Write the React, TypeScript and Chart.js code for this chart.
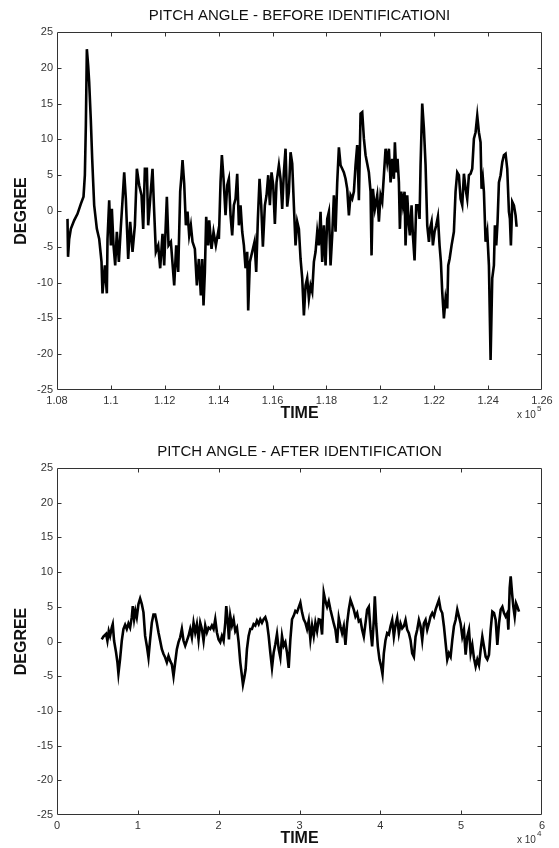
import React, { useEffect, useRef } from "react";
import { Chart, registerables } from "chart.js";

Chart.register(...registerables);

const FONT = "'Liberation Sans', Arial, Helvetica, sans-serif";

// ---------- BEFORE IDENTIFICATION (time in raw units, axis shown x 10^5) ----------
const beforeTime = [
  108390, 108410, 108452, 108514, 108638, 108761, 108885, 108984, 109034, 109071,
  109108, 109157, 109194, 109256, 109306, 109343, 109380, 109479, 109566, 109652,
  109689, 109776, 109850, 109875, 109937, 109999, 110036, 110098, 110160, 110221,
  110296, 110370, 110432, 110494, 110555, 110642, 110716, 110803, 110890, 110964,
  111050, 111137, 111199, 111261, 111335, 111384, 111459, 111545, 111607, 111669,
  111756, 111830, 111916, 111978, 112077, 112139, 112226, 112350, 112424, 112498,
  112572, 112622, 112659, 112721, 112783, 112844, 112906, 112968, 113030, 113117,
  113191, 113265, 113339, 113389, 113438, 113488, 113537, 113612, 113649, 113735,
  113810, 113896, 113983,
  114008, 114069, 114119, 114181, 114255, 114317, 114379, 114441, 114502, 114564,
  114626, 114688, 114750, 114812, 114874, 114936, 114997, 115059, 115096, 115158,
  115245, 115331, 115393, 115455, 115517, 115579, 115641, 115715, 115777, 115839,
  115901, 115962, 116024, 116086, 116148, 116235, 116297, 116358, 116420, 116482,
  116544, 116606, 116668, 116730, 116791, 116853, 116915, 116977, 117039, 117101,
  117163, 117225, 117286, 117348, 117410, 117472, 117534, 117596, 117658, 117719,
  117781, 117843, 117905, 117967, 118029, 118091, 118152, 118214, 118276, 118338,
  118400, 118462, 118524, 118586, 118647, 118709, 118771, 118833, 118895, 118957,
  119019, 119080, 119142, 119204, 119266, 119328, 119390, 119452, 119514, 119575,
  119637, 119674, 119724, 119798, 119885, 119947,
  120008, 120070, 120132, 120194, 120256, 120318, 120380, 120441, 120503, 120540,
  120590, 120639, 120689, 120726, 120776, 120837, 120899, 120936, 120998, 121060,
  121097, 121159, 121209, 121270, 121332, 121407, 121456, 121493, 121555, 121617,
  121679, 121741, 121803, 121840, 121902, 121951, 122013, 122075, 122137, 122198,
  122248, 122297, 122359, 122421, 122483, 122520, 122570, 122644, 122730, 122792,
  122854, 122916, 122978, 123040, 123102, 123164, 123225, 123287, 123349, 123411,
  123473, 123535, 123597, 123658, 123720, 123757, 123807, 123844, 123906, 123968,
  124030, 124092, 124153, 124215, 124252, 124302, 124351, 124401, 124463, 124525,
  124586, 124648, 124710, 124772, 124809, 124846, 124896, 124958, 125020, 125057,
];

const beforeDeg = [
  -1.1, -6.4, -3.9, -2.5, -1.3, -0.4, 1.0, 2.0, 5.0, 12.0,
  22.6, 20.3, 18.0, 12.6, 7.3, 4.0, 0.8, -2.5, -3.9, -7.1,
  -11.5, -7.6, -11.5, -3.9, 1.5, -4.8, 0.3, -4.8, -7.6, -2.9,
  -7.1, -2.2, 1.5, 5.4, 1.7, -6.7, -1.5, -5.7, -2.0, 5.9,
  3.6, 2.2, -2.5, 5.9, 5.9, -2.0, 1.7, 5.9, -0.1, -5.7,
  -4.8, -8.0, -3.2, -7.6, 2.0, -4.8, -4.3, -10.4, -4.8, -8.5,
  2.7, 5.0, 7.1, 3.8, -2.0, -0.1, -3.4, -2.0, -4.3, -5.3,
  -10.4, -6.7, -11.8, -6.7, -13.2, -8.5, -0.8, -4.8, -1.3, -5.3,
  -2.9, -4.8, -2.9,
  -3.9, 4.0, 7.8, 4.5, -0.6, 3.6, 4.5, -0.6, -3.4, 0.8,
  1.7, 5.2, -2.0, 0.8, -2.9, -4.8, -8.0, -5.7, -13.9, -7.1,
  -5.7, -4.3, -8.5, -1.1, 4.5, 0.8, -5.0, 0.8, 2.2, 5.0,
  0.8, 5.4, 3.6, -1.8, 4.0, 6.4, 4.5, 0.3, 5.4, 8.7,
  0.6, 2.7, 8.2, 6.6, 0.8, -4.8, -1.5, -2.5, -6.7, -9.4,
  -14.6, -10.4, -9.4, -12.2, -10.4, -11.3, -7.1, -5.7, -2.9, -4.8,
  -0.1, -7.1, -2.0, -7.6, -1.1, -0.1, -7.6, -3.4, 2.2, -2.9,
  4.0, 8.9, 6.4, 5.9, 5.4, 4.5, 3.1, -0.6, 2.2, 1.7,
  2.7, 6.4, 9.2, 1.5, 13.6, 13.8, 10.1, 7.8, 6.6, 5.4,
  2.7, -6.2, 3.1, 0.3, 2.2, -1.5,
  2.2, 1.3, 5.0, 8.7, 6.8, 8.7, 4.0, 7.3, 4.5, 9.6,
  5.4, 7.3, 4.0, -2.5, 2.7, 0.8, 2.7, -4.8, 2.2, -2.0,
  -3.4, 0.8, -3.4, -6.9, 0.8, 0.8, -1.1, 6.4, 15.0, 11.5,
  6.4, -2.0, -4.3, -2.5, -1.5, -4.8, -2.9, -2.0, -0.8, -4.8,
  -7.1, -11.3, -15.0, -12.2, -13.6, -7.6, -6.7, -4.8, -2.9, 2.7,
  5.4, 5.0, 1.7, 0.8, 5.2, 3.1, 1.7, 5.0, 5.2, 5.9,
  10.1, 11.0, 13.3, 11.0, 9.6, 3.1, 4.5, 2.7, -4.3, -2.9,
  -7.6, -20.8, -9.4, -7.6, -2.0, -4.8, -1.5, 4.0, 5.0, 6.8,
  7.8, 8.0, 5.9, -0.1, -1.1, -4.8, 1.3, 0.8, -0.6, -2.2,
];

// ---------- AFTER IDENTIFICATION (time in raw units, axis shown x 10^4) ----------
const afterTime = [
  5535, 5741, 6071, 6237, 6402, 6567, 6774, 6897, 7063, 7310,
  7476, 7600, 7806, 8013, 8219, 8426, 8632, 8839, 9045, 9252,
  9375, 9541, 9706, 9871, 10078, 10284, 10491, 10697, 10904, 11110,
  11317, 11523, 11730, 11936, 12143, 12349, 12556, 12762, 12969, 13175,
  13382, 13588, 13795, 14001, 14208, 14414, 14621, 14827, 15034, 15240,
  15447, 15653, 15860, 16066, 16273, 16479, 16686, 16892, 17099, 17305,
  17512, 17718, 17925, 18131, 18338, 18544, 18751, 18957, 19164, 19370,
  19577, 19783, 19990, 20196, 20403, 20609, 20816, 20939, 21105, 21270,
  21435, 21642, 21848, 22055, 22261, 22468, 22674, 22881, 23004, 23170,
  23335, 23499, 23706, 23912, 24119, 24325, 24532, 24738, 24945, 25151,
  25358, 25564, 25771, 25977, 26184, 26390, 26597, 26803, 27010, 27216,
  27423, 27629, 27836, 28042, 28249, 28455, 28662, 28869, 29075, 29282,
  29488, 29695, 29901, 30108, 30314, 30521, 30727, 30934, 31140, 31347,
  31553, 31760, 31966, 32173, 32379,
  32586, 32793, 32999, 33206, 33412, 33619, 33825, 34032, 34238, 34445,
  34651, 34858, 35064, 35271, 35477, 35684, 35890, 36097, 36303, 36510,
  36716, 36923, 37129, 37336, 37542, 37749, 37955, 38162, 38368, 38575,
  38781, 38988, 39194, 39318, 39483, 39690, 39896, 40103, 40268, 40433,
  40640, 40846, 41053, 41259, 41466, 41672, 41879, 42085, 42292, 42498,
  42705, 42911, 43118, 43324, 43531, 43737, 43944, 44150, 44357, 44563,
  44770, 44976, 45183, 45389, 45596, 45802, 46009, 46215, 46422, 46628,
  46835, 47041, 47248, 47454, 47661, 47867, 48074, 48280, 48487, 48693,
  48900, 49106, 49313, 49519, 49726, 49932, 50139, 50345, 50552, 50758,
  50965, 51171, 51378, 51584, 51791, 51997, 52204, 52410, 52617, 52823,
  53030, 53236, 53443, 53649, 53856, 54062, 54269, 54475, 54682, 54888,
  55095, 55301, 55508, 55714, 55838, 56003, 56127, 56292, 56457, 56623,
  56788, 56953, 57160,
];

const afterDeg = [
  0.3, 0.7, 1.1, 0.1, 1.5, 0.8, 2.0, 2.5, 0.1, -1.6,
  -3.0, -4.6, -2.5, 0.1, 1.8, 2.4, 1.8, 2.6, 2.0, 3.5,
  5.1, 3.2, 4.4, 3.5, 5.4, 6.2, 5.4, 4.2, 0.8, -0.6,
  -2.3, 0.3, 2.7, 3.9, 3.9, 2.7, 1.3, 0.1, -1.1, -1.8,
  -2.3, -3.0, -2.1, -2.8, -3.3, -5.0, -3.0, -1.1, -0.1, 0.6,
  1.8, 0.1, -0.6, 0.1, 0.8, 1.8, 0.6, 2.7, 1.3, 2.5,
  0.3, 2.7, 1.8, 0.1, 2.3, 1.3, 2.0, 1.8, 2.3, 1.8,
  3.2, 1.3, 0.3, -0.1, 0.8, 0.1, 2.7, 5.1, 3.2, 0.3,
  3.7, 2.3, 3.2, 1.5, 2.0, -0.1, -3.0, -5.0, -6.2, -5.2,
  -4.0, -1.1, 0.8, 1.8, 1.8, 2.5, 2.3, 3.0, 2.5, 3.2,
  2.7, 3.2, 3.5, 2.7, 0.8, -1.6, -3.8, -1.6, -0.4, 1.1,
  -1.1, -2.3, 0.8, -0.6, -0.1, -1.6, -3.8, 0.3, 3.2, 3.7,
  4.4, 4.2, 4.9, 5.6, 4.2, 3.2, 2.7, 1.8, 3.0, 0.3,
  2.3, 0.8, 2.7, 1.5, 3.2,
  3.1, 1.0, 7.0, 5.8, 5.0, 5.8, 4.6, 3.6, 2.6, 1.7,
  -0.2, 3.4, 2.2, 1.2, 2.2, -0.5, 2.6, 4.6, 6.0, 5.3,
  4.6, 3.6, 4.1, 2.9, 3.1, 1.7, 0.7, 2.6, 4.6, 5.0,
  1.7, -0.7, 3.1, 6.5, 2.6, -0.7, -2.6, -3.6, -4.7, -1.7,
  0.2, 1.2, 1.0, 2.2, 3.1, 0.7, 2.4, 3.4, 1.2, 2.6,
  1.9, 2.2, 3.1, 1.7, 1.2, 0.2, -1.7, -2.2, 0.7, 1.7,
  3.1, 2.2, 0.2, 2.6, 3.1, 1.7, 2.6, 3.6, 4.1, 3.6,
  4.6, 5.3, 6.0, 4.6, 4.1, 2.2, -0.2, -2.6, -1.7, -2.2,
  0.2, 2.2, 3.1, 4.6, 3.6, 2.6, 0.7, 1.7, -1.9, 0.7,
  1.7, -1.7, -0.5, -2.4, -3.6, -2.6, -3.4, -1.2, 0.7, -0.7,
  -2.2, -2.6, -1.9, 1.7, 4.3, 4.1, 3.1, -0.5, 2.6, 4.6,
  5.0, 4.1, 3.6, 4.1, 1.7, 7.7, 9.4, 7.0, 5.0, 3.6,
  5.5, 5.0, 4.3,
];

const degreeTicks = { min: -25, max: 25, step: 5 };
const beforeAxis = { min: 108000, max: 126000, step: 2000, scale: 1e5, exp: "5" };
const afterAxis = { min: 0, max: 60000, step: 10000, scale: 1e4, exp: "4" };

const framePlugin = {
  id: "matlabFrame",
  afterDraw(chart: any, _args: any, opts: any) {
    const { ctx, chartArea: a, scales } = chart;
    ctx.save();
    const L = Math.round(a.left) + 0.5;
    const R = Math.round(a.right) - 0.5;
    const T = Math.round(a.top) + 0.5;
    const B = Math.round(a.bottom) - 0.5;
    ctx.strokeStyle = "#333";
    ctx.lineWidth = 1;
    ctx.beginPath();
    ctx.rect(L, T, R - L, B - T);
    ctx.stroke();
    const tl = 4;
    ctx.beginPath();
    scales.x.ticks.forEach((t: any) => {
      const px = Math.round(scales.x.getPixelForValue(t.value)) + 0.5;
      if (px <= L + 1 || px >= R - 1) return;
      ctx.moveTo(px, B);
      ctx.lineTo(px, B - tl);
      ctx.moveTo(px, T);
      ctx.lineTo(px, T + tl);
    });
    scales.y.ticks.forEach((t: any) => {
      const py = Math.round(scales.y.getPixelForValue(t.value)) + 0.5;
      if (py <= T + 1 || py >= B - 1) return;
      ctx.moveTo(L, py);
      ctx.lineTo(L + tl, py);
      ctx.moveTo(R, py);
      ctx.lineTo(R - tl, py);
    });
    ctx.stroke();

    const cx = (a.left + a.right) / 2;
    const cy = (a.top + a.bottom) / 2;
    ctx.fillStyle = "#111";
    ctx.textAlign = "center";
    ctx.textBaseline = "middle";
    ctx.font = `15px ${FONT}`;
    ctx.fillText(opts.title, cx, a.top - 16);
    ctx.font = `bold 16px ${FONT}`;
    ctx.fillText("TIME", cx, a.bottom + 24);
    ctx.save();
    ctx.translate(22, cy);
    ctx.rotate(-Math.PI / 2);
    ctx.fillText("DEGREE", 0, 0);
    ctx.restore();
    ctx.textAlign = "left";
    ctx.textBaseline = "alphabetic";
    ctx.fillStyle = "#333";
    ctx.font = `10px ${FONT}`;
    ctx.fillText("x 10", a.right - 25, a.bottom + 28);
    ctx.font = `8px ${FONT}`;
    ctx.fillText(opts.exp, a.right - 5, a.bottom + 21);
    ctx.restore();
  },
};

function buildConfig(
  times: number[],
  degs: number[],
  axis: any,
  title: string,
  topPad: number,
  bottomSpace: number
) {
  const n = Math.min(times.length, degs.length);
  const pts = [] as { x: number; y: number }[];
  for (let i = 0; i < n; i++) pts.push({ x: times[i], y: degs[i] });
  const tickFont = { family: FONT, size: 11 };
  return {
    type: "scatter",
    data: {
      datasets: [
        {
          data: pts,
          showLine: true,
          borderColor: "#000",
          borderWidth: 2.6,
          pointRadius: 0,
          tension: 0,
          fill: false,
        },
      ],
    },
    options: {
      animation: false,
      responsive: false,
      devicePixelRatio: 1,
      layout: { padding: { left: 0, right: 17, top: topPad, bottom: 0 } },
      plugins: {
        legend: { display: false },
        tooltip: { enabled: false },
        matlabFrame: { title, exp: axis.exp },
      },
      scales: {
        x: {
          type: "linear",
          min: axis.min,
          max: axis.max,
          grid: { display: false, drawTicks: false },
          border: { display: false },
          afterFit: (s: any) => {
            s.height = bottomSpace;
          },
          ticks: {
            stepSize: axis.step,
            autoSkip: false,
            maxRotation: 0,
            padding: 4,
            color: "#333",
            font: tickFont,
            callback: (v: any) => String(+(Number(v) / axis.scale).toFixed(2)),
          },
        },
        y: {
          type: "linear",
          min: degreeTicks.min,
          max: degreeTicks.max,
          grid: { display: false, drawTicks: false },
          border: { display: false },
          afterFit: (s: any) => {
            s.width = 57;
          },
          ticks: {
            stepSize: degreeTicks.step,
            autoSkip: false,
            padding: 4,
            color: "#333",
            font: tickFont,
          },
        },
      },
    },
    plugins: [framePlugin],
  };
}

function PitchChart(props: {
  times: number[];
  degs: number[];
  axis: any;
  title: string;
  topPad: number;
  bottomSpace: number;
  top: number;
}) {
  const ref = useRef<HTMLCanvasElement>(null);
  useEffect(() => {
    if (!ref.current) return;
    const cfg: any = buildConfig(
      props.times,
      props.degs,
      props.axis,
      props.title,
      props.topPad,
      props.bottomSpace
    );
    const chart = new Chart(ref.current, cfg);
    return () => chart.destroy();
  }, []);
  return (
    <canvas
      ref={ref}
      width={559}
      height={424}
      style={{ position: "absolute", left: 0, top: props.top, width: 559, height: 424 }}
    />
  );
}

export default function App() {
  return (
    <div
      style={{
        position: "absolute",
        left: 0,
        top: 0,
        width: 559,
        height: 848,
        background: "#fff",
        overflow: "hidden",
      }}
    >
      <PitchChart
        times={beforeTime}
        degs={beforeDeg}
        axis={beforeAxis}
        title="PITCH ANGLE - BEFORE IDENTIFICATIONI"
        topPad={32}
        bottomSpace={34}
        top={0}
      />
      <PitchChart
        times={afterTime}
        degs={afterDeg}
        axis={afterAxis}
        title="PITCH ANGLE - AFTER IDENTIFICATION"
        topPad={44}
        bottomSpace={33}
        top={424}
      />
    </div>
  );
}
